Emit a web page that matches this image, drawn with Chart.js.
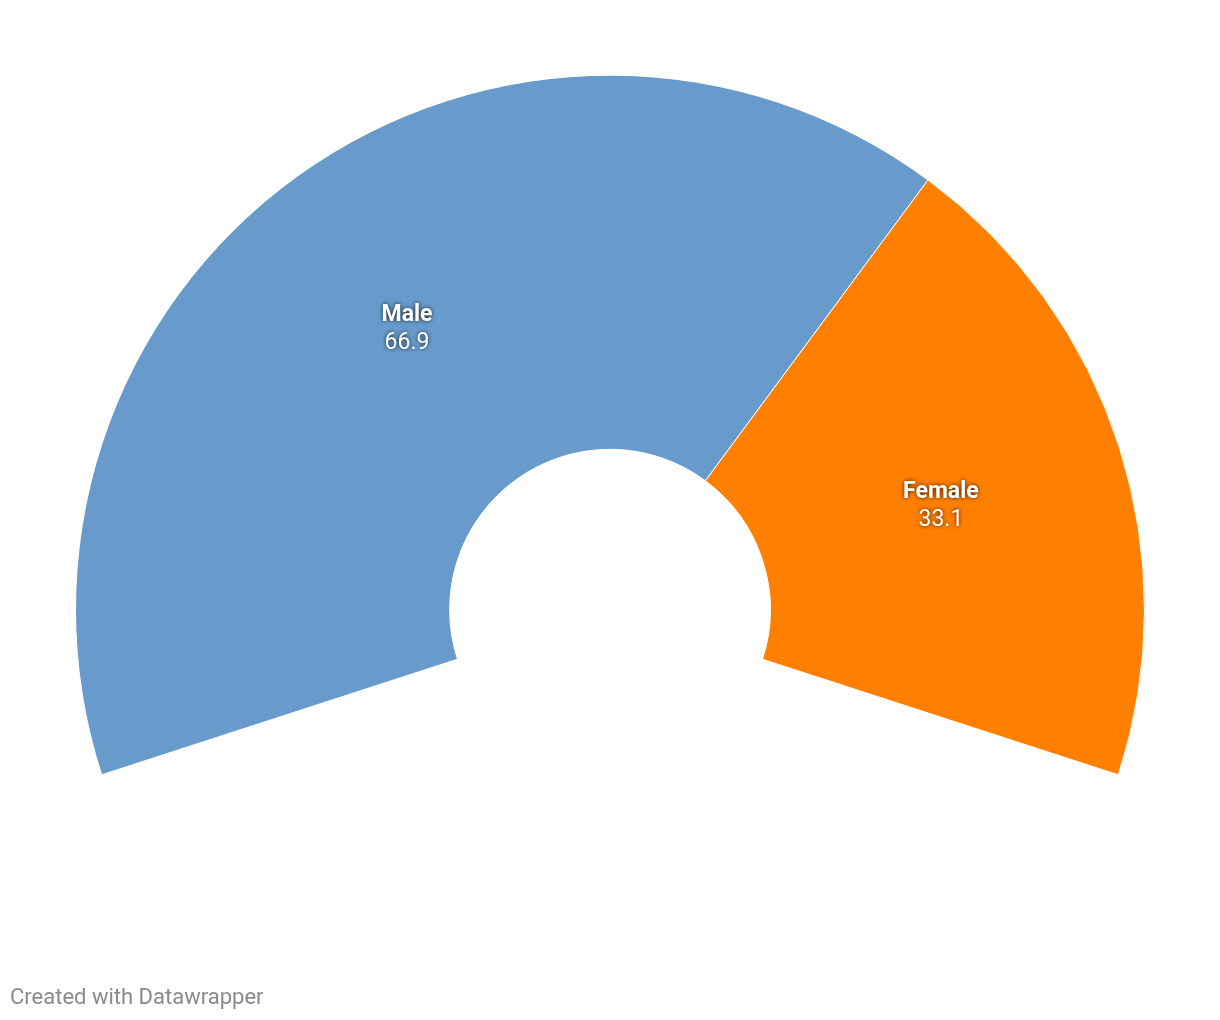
<!DOCTYPE html>
<html>
<head>
<meta charset="utf-8">
<script src="https://cdn.jsdelivr.net/npm/chart.js@4"></script>
<style>
  html, body { margin: 0; padding: 0; background: #fff; }
  #wrap { position: relative; width: 1220px; height: 1020px; }
  #footer { position: absolute; left: 10px; top: 984px; font-family: Roboto, sans-serif; font-size: 22px; color: #8a8a8a; }
</style>
</head>
<body>
<div id="wrap">
  <canvas id="c" width="1220" height="1020"></canvas>
  <div id="footer">Created with Datawrapper</div>
</div>
<script>
const categories = ["Male", "Female"];
const values = [66.9, 33.1];
const valueLabels = ["66.9", "33.1"];
const colors = ["#689bcc", "#ff7f00"];

const labelPlugin = {
  id: 'sliceLabels',
  afterDatasetsDraw(chart) {
    const ctx = chart.ctx;
    const meta = chart.getDatasetMeta(0);
    meta.data.forEach((arc, i) => {
      const p = arc.tooltipPosition();
      ctx.save();
      ctx.textAlign = 'center';
      ctx.textBaseline = 'middle';
      ctx.fillStyle = '#ffffff';
      ctx.shadowColor = 'rgba(0,0,0,0.8)';
      ctx.shadowBlur = 4;
      ctx.font = 'bold 23px Roboto, sans-serif';
      ctx.fillText(categories[i], p.x, p.y - 12);
      ctx.font = '23px Roboto, sans-serif';
      ctx.fillText(valueLabels[i], p.x, p.y + 16);
      ctx.restore();
    });
  }
};

new Chart(document.getElementById('c'), {
  type: 'doughnut',
  data: {
    labels: categories,
    datasets: [{
      data: values,
      backgroundColor: colors,
      borderColor: '#ffffff',
      borderWidth: 1,
      hoverOffset: 0
    }]
  },
  options: {
    responsive: false,
    animation: false,
    rotation: -108,
    circumference: 216,
    cutout: '30%',
    layout: { padding: { left: 75, right: 75, top: 74, bottom: 244 } },
    plugins: { legend: { display: false }, tooltip: { enabled: false } }
  },
  plugins: [labelPlugin]
});
</script>
</body>
</html>
